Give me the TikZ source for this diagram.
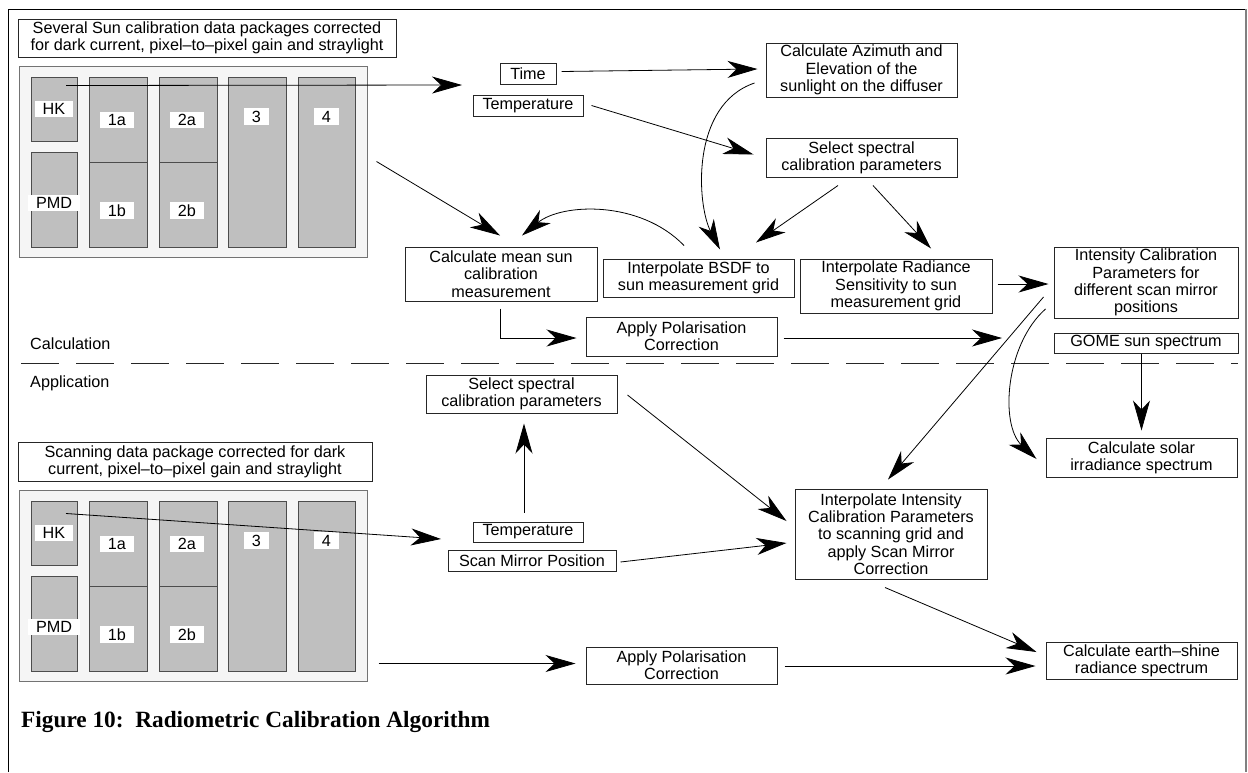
\documentclass[tikz,border=0pt]{standalone}
\usepackage{fontspec}
\setmainfont{Liberation Sans}
\newfontfamily\capfont{Liberation Serif}
\usetikzlibrary{arrows.meta,calc}
\newcommand\txt{\fontsize{16.2}{17.3}\selectfont}
\tikzset{
  box/.style={draw=black!85, line width=1pt, fill=white, inner sep=0pt, align=center, font=\txt},
  pkgframe/.style={draw=black!55, line width=1pt, fill=black!4, inner sep=0pt},
  band/.style={draw=black!70, line width=1pt, fill=black!25, inner sep=0pt},
  tag/.style={fill=white, inner sep=0pt, font=\txt},
  arr/.style={-{Stealth[length=30pt,width=17pt,inset=9pt]}, line width=0.8pt},
}
% box: name, x, y, width, height, text
\newcommand\bx[6]{\node[box, minimum width=#4pt, minimum height=#5pt] (#1) at (#2,#3) {#6};}
% one data package: frame, channel bands and their tags
\newcommand\datapackage{%
  \node[pkgframe, minimum width=348pt, minimum height=191pt] (pkg) at (193,161.5) {};
  \node[band, minimum width=46pt, minimum height=64pt] (hk) at (54,109) {};
  \node[band, minimum width=46pt, minimum height=95pt] (pmd) at (54,199.5) {};
  \node[band, minimum width=58pt, minimum height=85pt] (c1a) at (118,119.5) {};
  \node[band, minimum width=58pt, minimum height=85pt] (c1b) at (118,204.5) {};
  \node[band, minimum width=58pt, minimum height=85pt] (c2a) at (188,119.5) {};
  \node[band, minimum width=58pt, minimum height=85pt] (c2b) at (188,204.5) {};
  \node[band, minimum width=58pt, minimum height=170pt] (c3) at (257,162) {};
  \node[band, minimum width=57pt, minimum height=170pt] (c4) at (326.5,162) {};
  \node[tag, minimum width=38pt, minimum height=16pt] (lhk) at (54,109) {HK};
  \node[tag, minimum width=52pt, minimum height=16pt] (lpmd) at (54,203) {PMD};
  \node[tag, minimum width=34pt, minimum height=16pt] (l1a) at (117,120) {1a};
  \node[tag, minimum width=34pt, minimum height=17pt] (l1b) at (117,210.5) {1b};
  \node[tag, minimum width=34pt, minimum height=16pt] (l2a) at (187,120) {2a};
  \node[tag, minimum width=34pt, minimum height=17pt] (l2b) at (187,210.5) {2b};
  \node[tag, minimum width=25pt, minimum height=17pt] (l3) at (256.5,116.5) {3};
  \node[tag, minimum width=25pt, minimum height=17pt] (l4) at (326.5,116.5) {4};
}
\begin{document}
\begin{tikzpicture}[x=1pt, y=-1pt]
\useasboundingbox (0,0) rectangle (1248,772);

% page frame
\draw[line width=0.9pt] (8,772) -- (8,9) -- (1246,9);
\draw[black!50, line width=2.5pt] (1246,9) -- (1246,772);

% ---------- calculation part ----------
\bx{t1}{207}{38}{378}{38}{Several Sun calibration data packages corrected\\for dark current, pixel--to--pixel gain and straylight}
\begin{scope}[name prefix=a-]
  \datapackage
\end{scope}

\bx{time}{528}{73.5}{56}{21}{Time}
\bx{temp1}{528}{105.5}{110}{21}{Temperature}
\bx{azim}{861.5}{70}{191}{54}{Calculate Azimuth and\\Elevation of the\\sunlight on the diffuser}
\bx{sel1}{861.5}{157.5}{191}{39}{Select spectral\\calibration parameters}
\bx{mean}{501}{274}{192}{54}{Calculate mean sun\\calibration\\measurement}
\bx{bsdf}{698.5}{278}{191}{38}{Interpolate BSDF to\\sun measurement grid}
\bx{rad}{896}{286}{192}{54}{Interpolate Radiance\\Sensitivity to sun\\measurement grid}
\bx{inten}{1146}{282.5}{184}{71}{Intensity Calibration\\Parameters for\\different scan mirror\\positions}
\bx{gome}{1146}{343}{184}{20}{GOME sun spectrum}
\bx{pol1}{681.5}{336.5}{191}{39}{Apply Polarisation\\Correction}

% separator between the two parts
\node[font=\txt, anchor=base west, inner sep=0pt] (calc) at (30,349) {Calculation};
\node[font=\txt, anchor=base west, inner sep=0pt] (appl) at (30,387) {Application};
\draw[line width=1pt, black!85, dash pattern=on 38pt off 17pt] (21,363) -- (1238,363);

% ---------- application part ----------
\bx{t2}{195}{461.5}{354}{39}{Scanning data package corrected for dark\\current, pixel--to--pixel gain and straylight}
\begin{scope}[yshift=-424pt, name prefix=b-]
  \datapackage
\end{scope}

\bx{sel2}{521.5}{394}{191}{38}{Select spectral\\calibration parameters}
\bx{solar}{1141.5}{457.5}{191}{39}{Calculate solar\\irradiance spectrum}
\bx{interp}{891}{534}{192}{90}{Interpolate Intensity\\Calibration Parameters\\to scanning grid and\\apply Scan Mirror\\Correction}
\bx{temp2}{528}{532}{110}{20}{Temperature}
\bx{scan}{532}{560.5}{168}{21}{Scan Mirror Position}
\bx{pol2}{681.5}{665.5}{191}{37}{Apply Polarisation\\Correction}
\bx{earth}{1141.5}{660.5}{191}{37}{Calculate earth--shine\\radiance spectrum}

\node[font=\capfont\bfseries\fontsize{23.3}{25}\selectfont, anchor=base west, inner sep=0pt] (cap) at (21,727) {Figure 10:\ \ Radiometric Calibration Algorithm};

% free ends of connectors
\coordinate (in1) at (462,85);
\coordinate (in2) at (441,539);
\coordinate (polend) at (1002,338);

% ---------- connectors, calculation part ----------
\draw[arr] ($(a-hk.north)+(12,9)$) -- (in1);
\draw[arr] ($(a-pkg.east)+(9,0)$) -- ($(mean.north)+(-1,-11)$);
\draw[arr] ($(time.east)+(5,-2)$) -- ($(azim.west)+(-8,-1)$);
\draw[arr] ($(temp1.east)+(8,0)$) -- ($(sel1.west)+(-12,-3)$);
\draw[arr] ($(azim.west)+(-11,13)$) .. controls (690,105) and (697,205) .. ($(bsdf.north)+(21.5,-9)$);
\draw[arr] ($(sel1.south)+(-23.5,8)$) -- ($(bsdf.north)+(57.5,-16)$);
\draw[arr] ($(sel1.south)+(11.5,8)$) -- ($(rad.north)+(35,-10)$);
\draw[arr] ($(bsdf.north)+(-14.5,-13)$) .. controls (640,200) and (562,203) .. ($(mean.north)+(21,-11)$);
\draw[arr] ($(rad.east)+(5,-2)$) -- ($(inten.west)+(-5,1.5)$);
\draw[arr] ($(mean.south)+(-1,7)$) |- ($(pol1.west)+(-9,1.5)$);
\draw[arr] ($(pol1.east)+(6,1.5)$) -- (polend);

% ---------- connectors, application part ----------
\draw[arr] ($(inten.west)+(-10,14.5)$) -- ($(interp.north)+(-3,-9)$);
\draw[arr] ($(inten.west)+(-8,26.5)$) .. controls (1005,345) and (1000,425) .. ($(solar.west)+(-9,1.5)$);
\draw[arr] (gome.south -| solar.north) -- ($(solar.north)+(0,-7)$);
\draw[arr] ($(sel2.east)+(10,1)$) -- ($(interp.west)+(-8,-13)$);
\draw[arr] ($(temp2.north)+(-4,-9)$) -- ($(sel2.south)+(2.5,10)$);
\draw[arr] ($(scan.east)+(4,1.5)$) -- ($(interp.west)+(-8,9)$);
\draw[arr] ($(b-hk.north)+(12,13)$) -- (in2);
\draw[arr] ($(pol2.west -| b-pkg.east)+(11,-2)$) -- ($(pol2.west)+(-10,-2)$);
\draw[arr] ($(interp.south)+(-6,8)$) -- ($(earth.west)+(-9,-8.5)$);
\draw[arr] ($(pol2.east)+(7,0.5)$) -- ($(earth.west |- pol2.east)+(-10,0.5)$);
\end{tikzpicture}
\end{document}
